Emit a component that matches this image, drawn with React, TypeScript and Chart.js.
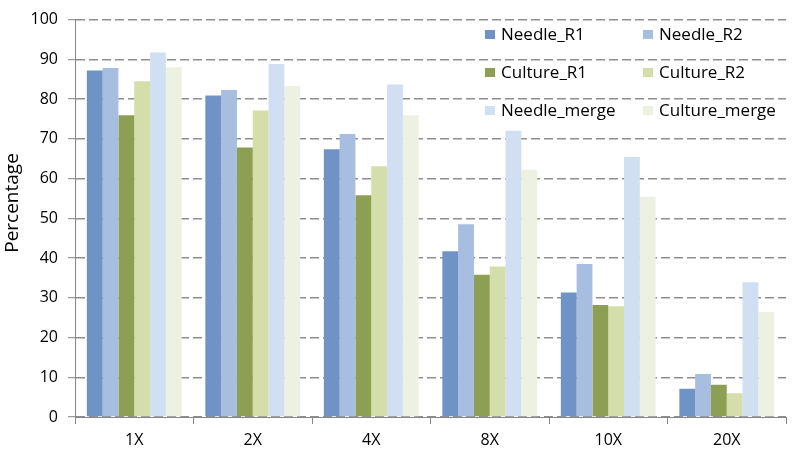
import React, { useEffect, useRef } from "react";
import { Chart, registerables } from "chart.js";

Chart.register(...registerables);

const categories = ["1X", "2X", "4X", "8X", "10X", "20X"];
const seriesNames = ["Needle_R1", "Needle_R2", "Culture_R1", "Culture_R2", "Needle_merge", "Culture_merge"];
const needleR1 = [87.2, 80.9, 67.4, 41.7, 31.3, 7.1];
const needleR2 = [87.8, 82.3, 71.2, 48.5, 38.5, 10.8];
const cultureR1 = [75.9, 67.8, 55.8, 35.8, 28.2, 8.1];
const cultureR2 = [84.5, 77.1, 63.1, 37.9, 27.9, 6.0];
const needleMerge = [91.7, 88.8, 83.7, 72.0, 65.4, 33.9];
const cultureMerge = [88.0, 83.3, 75.9, 62.2, 55.4, 26.4];
const seriesValues = [needleR1, needleR2, cultureR1, cultureR2, needleMerge, cultureMerge];
const seriesColors = ["#7093c6", "#a8bee0", "#8d9f52", "#d4deaa", "#d0dff2", "#ecf1e1"];
const yTitle = "Percentage";

const FONT = "'Open Sans', 'Noto Sans', sans-serif";
const AXIS = "#868686";
const GRID = "#8f8f8f";

const overlayPlugin = {
  id: "overlay",
  afterDraw(chart: any) {
    const ctx = chart.ctx;
    ctx.save();
    ctx.translate(13, 203);
    ctx.rotate(-Math.PI / 2);
    ctx.font = `19px ${FONT}`;
    ctx.fillStyle = "#000";
    ctx.textAlign = "center";
    ctx.textBaseline = "middle";
    ctx.fillText(yTitle, 0, 0);
    ctx.restore();

    ctx.save();
    ctx.font = `17px ${FONT}`;
    ctx.textAlign = "left";
    ctx.textBaseline = "middle";
    const colX = [485, 643];
    const rowY = [35, 73, 111];
    chart.data.datasets.forEach((ds: any, i: number) => {
      const c = i % 2;
      const r = Math.floor(i / 2);
      const x = colX[c];
      const y = rowY[r];
      ctx.fillStyle = ds.backgroundColor;
      ctx.fillRect(x, y - 5, 10, 9);
      ctx.fillStyle = "#000";
      ctx.fillText(ds.label, x + 16, y);
    });
    ctx.restore();
  },
};

export default function App() {
  const canvasRef = useRef<HTMLCanvasElement | null>(null);

  useEffect(() => {
    if (!canvasRef.current) return;
    const chart = new Chart(canvasRef.current, {
      type: "bar",
      data: {
        labels: categories,
        datasets: seriesNames.map((name, i) => ({
          label: name,
          data: seriesValues[i],
          backgroundColor: seriesColors[i],
          borderWidth: 0,
          categoryPercentage: 0.8,
          barPercentage: 1.0,
        })),
      },
      options: {
        animation: false,
        responsive: false,
        maintainAspectRatio: false,
        layout: { padding: { left: 0, right: 7, top: 17, bottom: 0 } },
        plugins: {
          legend: { display: false },
          tooltip: { enabled: false },
          title: { display: false },
        },
        scales: {
          x: {
            grid: {
              offset: true,
              drawOnChartArea: false,
              drawTicks: true,
              tickLength: 7,
              tickColor: AXIS,
            },
            border: { display: true, color: AXIS, width: 1 },
            ticks: {
              font: { family: FONT, size: 16 },
              color: "#000",
              padding: 7,
            },
            afterFit: (scale: any) => {
              scale.height = 38;
            },
          },
          y: {
            min: 0,
            max: 100,
            ticks: {
              stepSize: 10,
              font: { family: FONT, size: 16 },
              color: "#000",
              padding: 10,
            },
            grid: {
              color: GRID,
              lineWidth: 1.4,
              drawTicks: true,
              tickLength: 7,
              tickColor: AXIS,
              tickWidth: 1,
              tickBorderDash: [],
            },
            border: { display: true, color: AXIS, width: 1, dash: [9, 4] },
            afterFit: (scale: any) => {
              scale.width = 75;
            },
          },
        },
      },
      plugins: [overlayPlugin],
    });
    return () => chart.destroy();
  }, []);

  return (
    <div style={{ position: "fixed", left: 0, top: 0, width: 793, height: 455, background: "#fff" }}>
      <canvas ref={canvasRef} width={793} height={455} style={{ display: "block" }} />
    </div>
  );
}
